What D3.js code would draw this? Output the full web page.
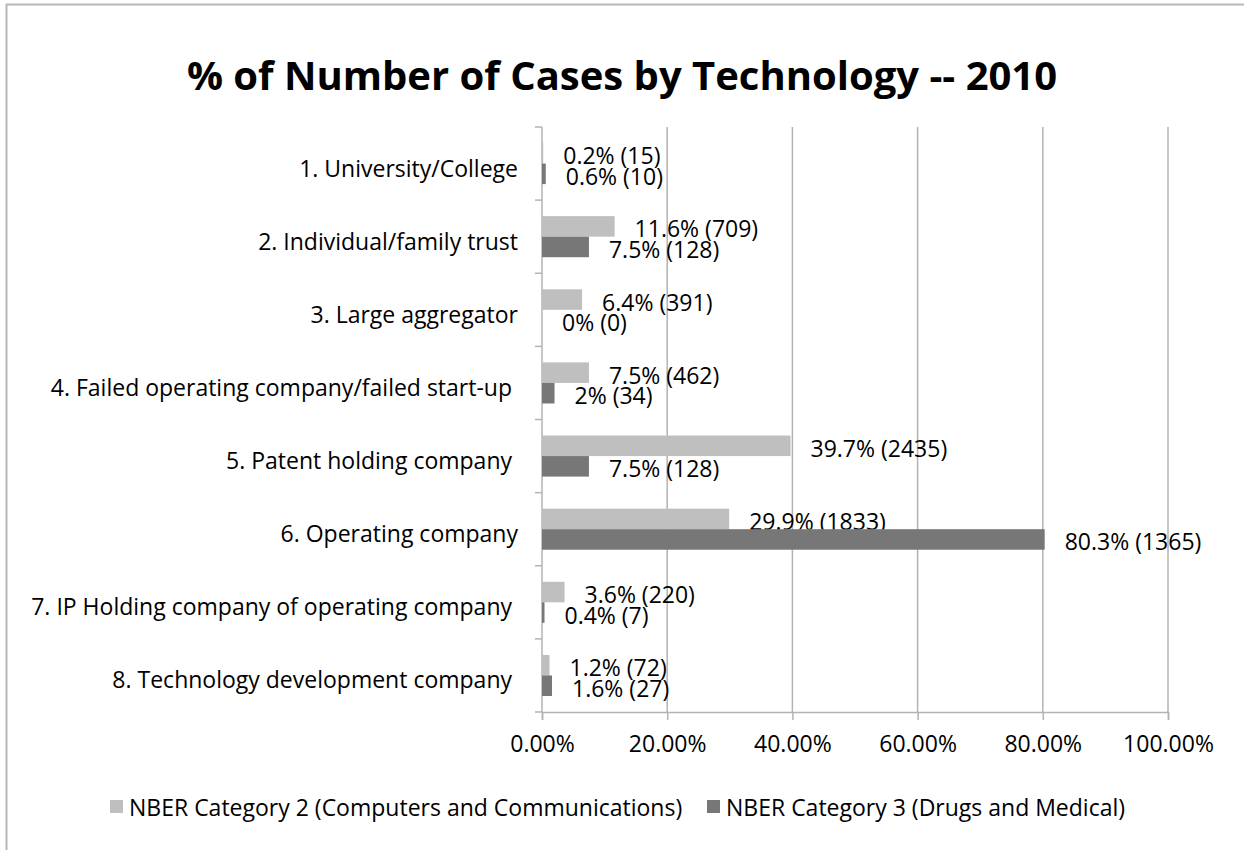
<!DOCTYPE html>
<html>
<head>
<meta charset="utf-8">
<script src="https://cdn.jsdelivr.net/npm/d3@7"></script>
<style>
  body { margin: 0; background: #fff; }
  text { font-family: "Open Sans", "Noto Sans", sans-serif; fill: #000; }
</style>
</head>
<body>
<div class="graph"></div>
<script>
// Data
var categories = [
    "1. University/College",
    "2. Individual/family trust",
    "3. Large aggregator",
    "4. Failed operating company/failed start-up ",
    "5. Patent holding company ",
    "6. Operating company",
    "7. IP Holding company of operating company ",
    "8. Technology development company "
];
var seriesNames = [
    "NBER Category 2 (Computers and Communications)",
    "NBER Category 3 (Drugs and Medical)"
];
var cat2Pct = [0.2, 11.6, 6.4, 7.5, 39.7, 29.9, 3.6, 1.2];
var cat2Count = [15, 709, 391, 462, 2435, 1833, 220, 72];
var cat3Pct = [0.6, 7.5, 0, 2, 7.5, 80.3, 0.4, 1.6];
var cat3Count = [10, 128, 0, 34, 128, 1365, 7, 27];
var xTicks = [0, 20, 40, 60, 80, 100];

// Configuration Variables
var lightColour = "#bfbfbf";
var darkColour = "#777777";
var gridColour = "#b3b3b3";
var fontSize = "23px";

var width = 1244,
    height = 850;

var svg = d3.select('.graph').append("svg")
    .attr("width", width)
    .attr("height", height)
    .style("display", "block");

// outer chart border
svg.append("rect")
    .attr("x", 6.5).attr("y", 4.5)
    .attr("width", width + 10).attr("height", height + 10)
    .style("fill", "none")
    .style("stroke", "#b8b8b8")
    .style("stroke-width", 2);

svg.append("text")
    .attr("x", 622)
    .attr("y", 90)
    .attr("text-anchor", "middle")
    .style("font-weight", "bold")
    .style("font-size", "40px")
    .text("% of Number of Cases by Technology -- 2010");

var x = d3.scaleLinear().domain([0, 100]).range([542, 1168]);
var y = d3.scaleBand().domain(categories).range([127, 712]).padding(0);
var ySub = d3.scaleBand().domain([0, 1]).range([0, y.bandwidth()])
    .paddingInner(0).paddingOuter(0.78);

// gridlines
svg.append("g").selectAll("line")
    .data(xTicks.slice(1))
    .enter().append("line")
    .attr("x1", function(d) { return x(d); })
    .attr("x2", function(d) { return x(d); })
    .attr("y1", y.range()[0])
    .attr("y2", y.range()[1])
    .style("stroke", gridColour)
    .style("stroke-width", 1.5);

// x axis
var xAxis = svg.append("g")
    .attr("transform", "translate(0," + y.range()[1] + ")")
    .call(d3.axisBottom(x).tickValues(xTicks).tickSize(8).tickPadding(16)
        .tickFormat(function(d) { return d.toFixed(2) + "%"; }));
xAxis.select(".domain").style("stroke", gridColour).style("stroke-width", 1.5);
xAxis.selectAll(".tick line").style("stroke", gridColour).style("stroke-width", 1.5);
xAxis.selectAll("text").style("font-size", fontSize).style("fill", "#000")
    .style("font-family", "\"Open Sans\", sans-serif");

// y axis (ticks at category boundaries, Excel style)
var yAxis = svg.append("g");
yAxis.append("line")
    .attr("x1", x(0)).attr("x2", x(0))
    .attr("y1", y.range()[0]).attr("y2", y.range()[1])
    .style("stroke", gridColour).style("stroke-width", 1.5);
yAxis.selectAll(".ytick")
    .data(categories.map(function(c) { return y(c); }).concat([y.range()[1]]))
    .enter().append("line")
    .attr("x1", x(0) - 7).attr("x2", x(0))
    .attr("y1", function(d) { return d; })
    .attr("y2", function(d) { return d; })
    .style("stroke", gridColour).style("stroke-width", 1.5);
yAxis.selectAll(".ylabel")
    .data(categories)
    .enter().append("text")
    .attr("x", 518)
    .attr("y", function(d) { return y(d) + y.bandwidth() / 2 + 4; })
    .attr("text-anchor", "end")
    .attr("dominant-baseline", "central")
    .style("white-space", "pre")
    .style("font-size", fontSize)
    .text(function(d) { return d; });

var series = [
    {pct: cat2Pct, count: cat2Count, colour: lightColour},
    {pct: cat3Pct, count: cat3Count, colour: darkColour}
];

function render() {
    series.forEach(function(s, si) {
        var g = svg.append("g");
        g.selectAll("rect")
            .data(categories)
            .enter().append("rect")
            .attr("x", x(0))
            .attr("y", function(d) { return y(d) + ySub(si); })
            .attr("width", function(d, i) { return x(s.pct[i]) - x(0); })
            .attr("height", ySub.bandwidth())
            .style("fill", s.colour);
        g.selectAll("text")
            .data(categories)
            .enter().append("text")
            .attr("x", function(d, i) { return x(s.pct[i]) + 20; })
            .attr("y", function(d) { return y(d) + ySub(si) + ySub.bandwidth() / 2 + 2; })
            .attr("dominant-baseline", "central")
            .style("font-size", fontSize)
            .text(function(d, i) { return s.pct[i] + "% (" + s.count[i] + ")"; });
    });
}

render();

// legend
var legendX = [110, 707];
var legend = svg.append("g").selectAll("g")
    .data(seriesNames)
    .enter().append("g")
    .attr("transform", function(d, i) { return "translate(" + legendX[i] + ",800)"; });
legend.append("rect")
    .attr("width", 13).attr("height", 13)
    .style("fill", function(d, i) { return series[i].colour; });
legend.append("text")
    .attr("x", 19).attr("y", 7)
    .attr("dominant-baseline", "central")
    .style("font-size", fontSize)
    .text(function(d) { return d; });
</script>
</body>
</html>
